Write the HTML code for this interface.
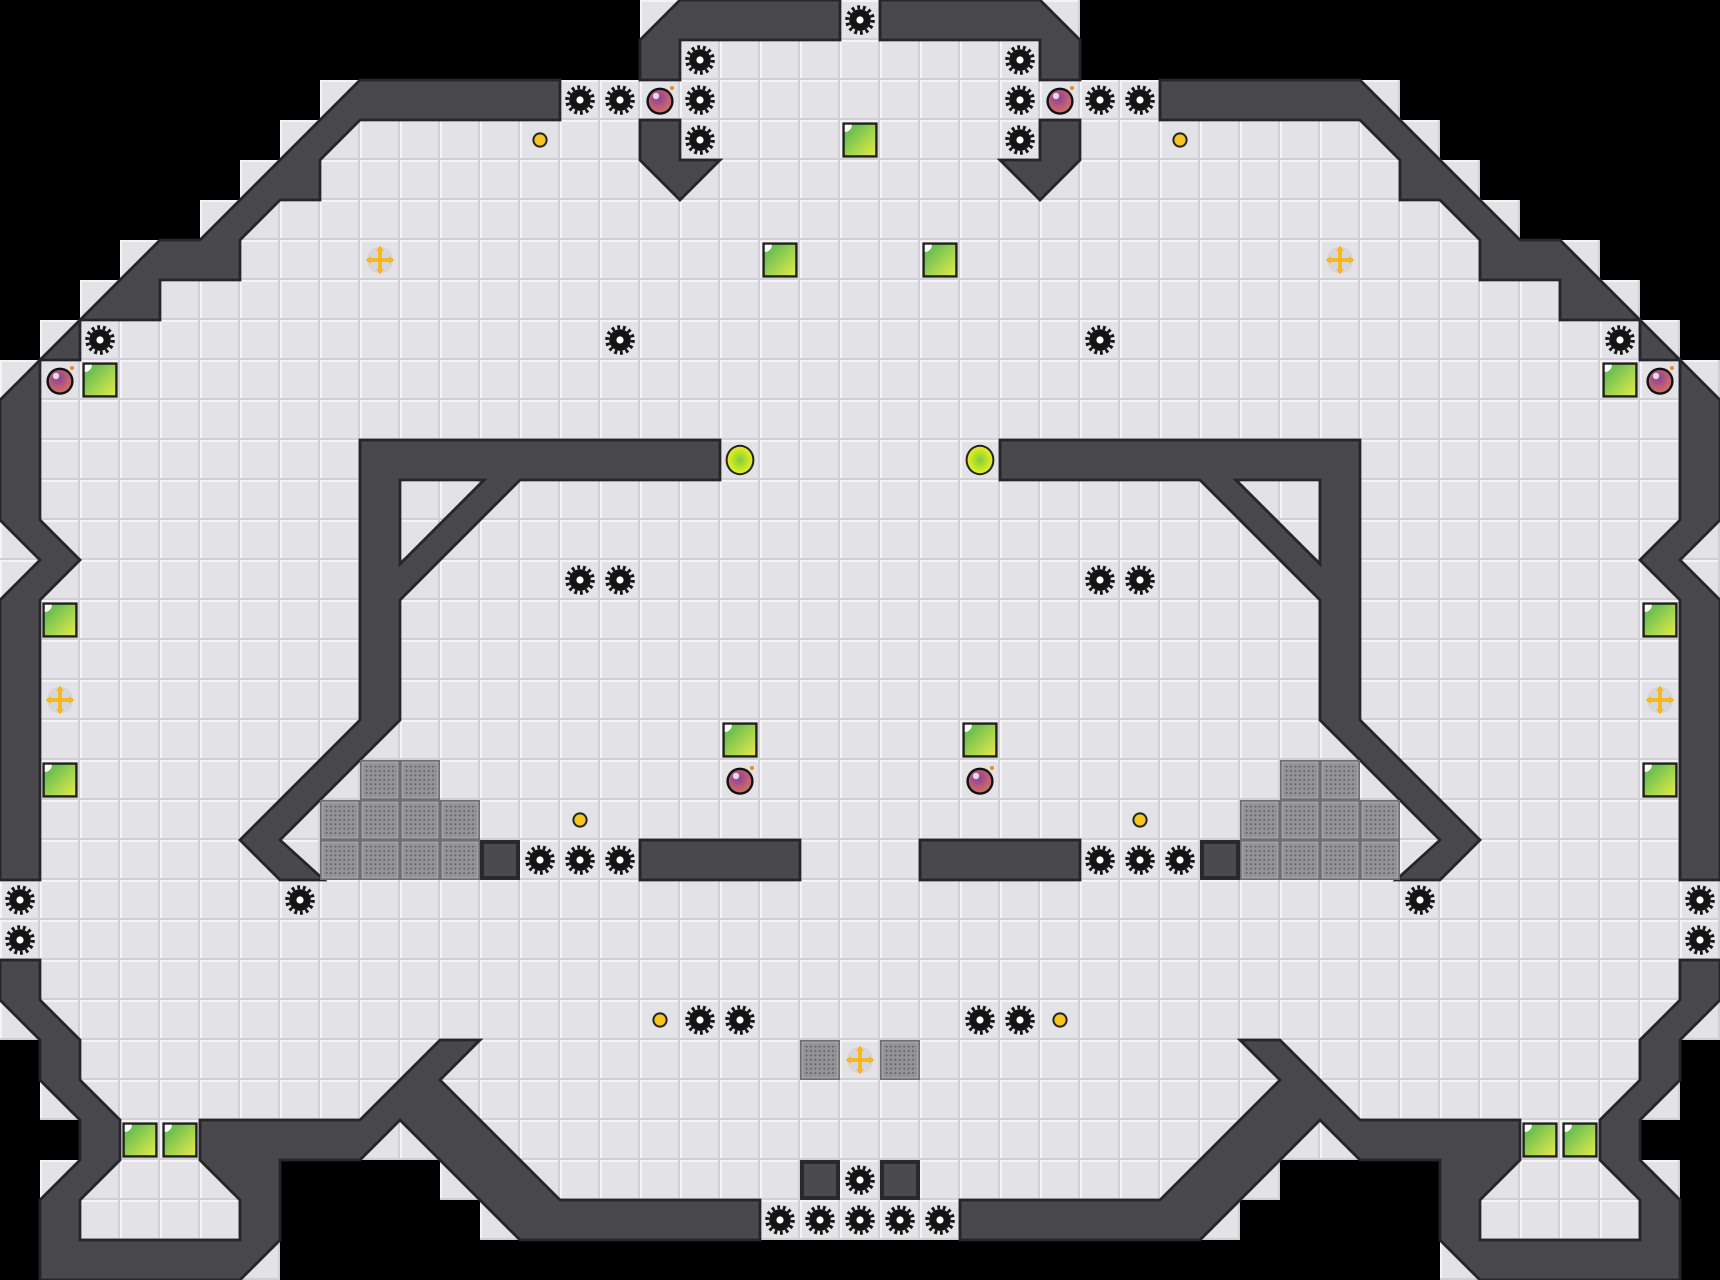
<!DOCTYPE html>
<html><head><meta charset="utf-8"><style>html,body{margin:0;padding:0;background:#000;width:1720px;height:1280px;overflow:hidden}svg{display:block}</style></head>
<body>
<svg width="1720" height="1280" viewBox="0 0 43 32" xmlns="http://www.w3.org/2000/svg">
<defs>
<pattern id="tile" patternUnits="userSpaceOnUse" width="1" height="1">
<rect width="1" height="1" fill="#e3e3e7"/>
<rect x="0" y="0" width="1" height="0.05" fill="#f4f4f6"/>
<rect x="0" y="0" width="0.05" height="1" fill="#f4f4f6"/>
<rect x="0" y="0.95" width="1" height="0.05" fill="#cfcfd4"/>
<rect x="0.95" y="0" width="0.05" height="1" fill="#cfcfd4"/>
</pattern>
<pattern id="dots" patternUnits="userSpaceOnUse" width="0.11" height="0.11">
<rect width="0.11" height="0.11" fill="#949496"/>
<circle cx="0.055" cy="0.055" r="0.025" fill="#606063"/>
</pattern>
<linearGradient id="gr" x1="0" y1="0" x2="1" y2="1"><stop offset="0" stop-color="#4fb654"/><stop offset="1" stop-color="#e2ea48"/></linearGradient>
<radialGradient id="bm" cx="0.4" cy="0.35" r="0.7"><stop offset="0" stop-color="#8e3fa0"/><stop offset="1" stop-color="#d4705c"/></radialGradient>
<radialGradient id="yg" cx="0.5" cy="0.5" r="0.5"><stop offset="0" stop-color="#7fcf3a"/><stop offset="1" stop-color="#e6ee20"/></radialGradient>
<symbol id="g" viewBox="0 0 1 1">
<circle cx="0.5" cy="0.5" r="0.27" fill="#141414"/>
<circle cx="0.5" cy="0.5" r="0.32" fill="none" stroke="#141414" stroke-width="0.1" stroke-dasharray="0.07 0.073"/>
<circle cx="0.5" cy="0.5" r="0.09" fill="#fff"/>
</symbol>
<symbol id="s" viewBox="0 0 1 1">
<rect x="0.06" y="0.06" width="0.88" height="0.88" fill="#222"/>
<rect x="0.12" y="0.12" width="0.76" height="0.76" fill="url(#gr)"/>
<path d="M0.12 0.12 h0.18 a0.18 0.18 0 0 1 -0.18 0.18z" fill="#fff"/>
</symbol>
<symbol id="b" viewBox="0 0 1 1">
<circle cx="0.5" cy="0.53" r="0.34" fill="#111"/>
<circle cx="0.5" cy="0.53" r="0.28" fill="url(#bm)"/>
<circle cx="0.4" cy="0.4" r="0.08" fill="#fff" opacity="0.8"/>
<circle cx="0.8" cy="0.2" r="0.05" fill="#f08a20"/>
</symbol>
<symbol id="y" viewBox="0 0 1 1">
<circle cx="0.5" cy="0.5" r="0.19" fill="#222"/>
<circle cx="0.5" cy="0.5" r="0.14" fill="#f7c51c"/>
</symbol>
<symbol id="Y" viewBox="0 0 1 1">
<ellipse cx="0.5" cy="0.5" rx="0.36" ry="0.38" fill="#222"/>
<ellipse cx="0.5" cy="0.5" rx="0.31" ry="0.33" fill="url(#yg)"/>
</symbol>
<symbol id="c" viewBox="0 0 1 1">
<circle cx="0.5" cy="0.5" r="0.33" fill="#d6d6de"/>
<path d="M0.5 0.14 L0.6 0.27 H0.55 V0.45 H0.73 V0.4 L0.86 0.5 L0.73 0.6 V0.55 H0.55 V0.73 H0.6 L0.5 0.86 L0.4 0.73 H0.45 V0.55 H0.27 V0.6 L0.14 0.5 L0.27 0.4 V0.45 H0.45 V0.27 H0.4Z" fill="#f6b820"/>
</symbol>
<symbol id="k" viewBox="0 0 1 1">
<rect width="1" height="1" fill="#6f6f72"/>
<rect x="0.04" y="0.04" width="0.92" height="0.92" fill="#a2a2a4"/>
<rect x="0.08" y="0.08" width="0.84" height="0.84" fill="url(#dots)"/>
</symbol>
<symbol id="d" viewBox="0 0 1 1">
<rect width="1" height="1" fill="#29292c"/>
<rect x="0.1" y="0.1" width="0.8" height="0.8" fill="#4a4a4f"/>
</symbol>
</defs>

<rect width="43" height="32" fill="#000"/>
<g fill="url(#tile)">
<rect x="16" y="0" width="11" height="2"/>
<rect x="8" y="2" width="27" height="1"/>
<rect x="7" y="3" width="29" height="1"/>
<rect x="6" y="4" width="31" height="1"/>
<rect x="5" y="5" width="33" height="1"/>
<rect x="3" y="6" width="37" height="1"/>
<rect x="2" y="7" width="39" height="1"/>
<rect x="1" y="8" width="41" height="1"/>
<rect x="0" y="9" width="43" height="17"/>
<rect x="1" y="26" width="41" height="2"/>
<rect x="2" y="28" width="39" height="1"/>
<rect x="1" y="29" width="6" height="3"/>
<rect x="36" y="29" width="6" height="3"/>
<rect x="11" y="29" width="21" height="1"/>
<rect x="12" y="30" width="19" height="1"/>
</g>

<g id="wallsL" fill="#48484d" stroke="#26262a" stroke-width="0.07" stroke-linejoin="miter">
<polygon points="14,2 9,2 5,6 4,6 1,9 2,9 2,8 4,8 4,7 6,7 6,6 7,5 8,5 8,4 9,3 14,3"/>
<polygon points="0,10 1,9 1,13 2,14 1,15 1,22 0,22 0,15 1,14 0,13"/>
<polygon points="16,1 17,0 21,0 21,1 17,1 17,2 16,2"/>
<polygon points="16,3 17,3 17,4 18,4 17,5 16,4"/>
<polygon points="0,24 1,24 1,25 2,26 2,27 3,28 3,29 2,30 2,31 6,31 6,30 5,29 5,28 9,28 11,26 12,26 11,27 14,30 19,30 19,31 13,31 10,28 9,29 7,29 7,30 7,31 6,32 1,32 1,30 2,29 2,28 1,27 1,26 0,25"/>
<path fill-rule="evenodd" d="M18,11 L9,11 L9,18 L6,21 L7,22 L8.1,22 L7,21 L10,18 L10,15 L13,12 L18,12 Z M10,12 L12.1,12 L10,14.1 Z"/>
<rect x="16" y="21" width="4" height="1"/>
</g>
<use href="#wallsL" transform="translate(43,0) scale(-1,1)"/>

<g>
<use href="#d" x="12" y="21" width="1" height="1"/>
<use href="#d" x="30" y="21" width="1" height="1"/>
<use href="#d" x="20" y="29" width="1" height="1"/>
<use href="#d" x="22" y="29" width="1" height="1"/>
</g>

<g>
<use href="#k" x="9" y="19" width="1" height="1"/><use href="#k" x="10" y="19" width="1" height="1"/>
<use href="#k" x="8" y="20" width="1" height="1"/><use href="#k" x="9" y="20" width="1" height="1"/><use href="#k" x="10" y="20" width="1" height="1"/><use href="#k" x="11" y="20" width="1" height="1"/>
<use href="#k" x="8" y="21" width="1" height="1"/><use href="#k" x="9" y="21" width="1" height="1"/><use href="#k" x="10" y="21" width="1" height="1"/><use href="#k" x="11" y="21" width="1" height="1"/>
<use href="#k" x="32" y="19" width="1" height="1"/><use href="#k" x="33" y="19" width="1" height="1"/>
<use href="#k" x="31" y="20" width="1" height="1"/><use href="#k" x="32" y="20" width="1" height="1"/><use href="#k" x="33" y="20" width="1" height="1"/><use href="#k" x="34" y="20" width="1" height="1"/>
<use href="#k" x="31" y="21" width="1" height="1"/><use href="#k" x="32" y="21" width="1" height="1"/><use href="#k" x="33" y="21" width="1" height="1"/><use href="#k" x="34" y="21" width="1" height="1"/>
<use href="#k" x="20" y="26" width="1" height="1"/><use href="#k" x="22" y="26" width="1" height="1"/>
</g>

<g>
<use href="#g" x="21" y="0" width="1" height="1"/>
<use href="#g" x="17" y="1" width="1" height="1"/><use href="#g" x="25" y="1" width="1" height="1"/>
<use href="#g" x="14" y="2" width="1" height="1"/><use href="#g" x="15" y="2" width="1" height="1"/><use href="#g" x="17" y="2" width="1" height="1"/>
<use href="#g" x="25" y="2" width="1" height="1"/><use href="#g" x="27" y="2" width="1" height="1"/><use href="#g" x="28" y="2" width="1" height="1"/>
<use href="#g" x="17" y="3" width="1" height="1"/><use href="#g" x="25" y="3" width="1" height="1"/>
<use href="#g" x="2" y="8" width="1" height="1"/><use href="#g" x="15" y="8" width="1" height="1"/><use href="#g" x="27" y="8" width="1" height="1"/><use href="#g" x="40" y="8" width="1" height="1"/>
<use href="#g" x="14" y="14" width="1" height="1"/><use href="#g" x="15" y="14" width="1" height="1"/><use href="#g" x="27" y="14" width="1" height="1"/><use href="#g" x="28" y="14" width="1" height="1"/>
<use href="#g" x="13" y="21" width="1" height="1"/><use href="#g" x="14" y="21" width="1" height="1"/><use href="#g" x="15" y="21" width="1" height="1"/>
<use href="#g" x="27" y="21" width="1" height="1"/><use href="#g" x="28" y="21" width="1" height="1"/><use href="#g" x="29" y="21" width="1" height="1"/>
<use href="#g" x="0" y="22" width="1" height="1"/><use href="#g" x="7" y="22" width="1" height="1"/><use href="#g" x="35" y="22" width="1" height="1"/><use href="#g" x="42" y="22" width="1" height="1"/>
<use href="#g" x="0" y="23" width="1" height="1"/><use href="#g" x="42" y="23" width="1" height="1"/>
<use href="#g" x="17" y="25" width="1" height="1"/><use href="#g" x="18" y="25" width="1" height="1"/><use href="#g" x="24" y="25" width="1" height="1"/><use href="#g" x="25" y="25" width="1" height="1"/>
<use href="#g" x="21" y="29" width="1" height="1"/>
<use href="#g" x="19" y="30" width="1" height="1"/><use href="#g" x="20" y="30" width="1" height="1"/><use href="#g" x="21" y="30" width="1" height="1"/><use href="#g" x="22" y="30" width="1" height="1"/><use href="#g" x="23" y="30" width="1" height="1"/>
</g>

<g>
<use href="#s" x="21" y="3" width="1" height="1"/>
<use href="#s" x="19" y="6" width="1" height="1"/><use href="#s" x="23" y="6" width="1" height="1"/>
<use href="#s" x="2" y="9" width="1" height="1"/><use href="#s" x="40" y="9" width="1" height="1"/>
<use href="#s" x="1" y="15" width="1" height="1"/><use href="#s" x="41" y="15" width="1" height="1"/>
<use href="#s" x="18" y="18" width="1" height="1"/><use href="#s" x="24" y="18" width="1" height="1"/>
<use href="#s" x="1" y="19" width="1" height="1"/><use href="#s" x="41" y="19" width="1" height="1"/>
<use href="#s" x="3" y="28" width="1" height="1"/><use href="#s" x="4" y="28" width="1" height="1"/>
<use href="#s" x="38" y="28" width="1" height="1"/><use href="#s" x="39" y="28" width="1" height="1"/>
</g>

<g>
<use href="#b" x="16" y="2" width="1" height="1"/><use href="#b" x="26" y="2" width="1" height="1"/>
<use href="#b" x="1" y="9" width="1" height="1"/><use href="#b" x="41" y="9" width="1" height="1"/>
<use href="#b" x="18" y="19" width="1" height="1"/><use href="#b" x="24" y="19" width="1" height="1"/>
</g>

<g>
<use href="#y" x="13" y="3" width="1" height="1"/><use href="#y" x="29" y="3" width="1" height="1"/>
<use href="#y" x="14" y="20" width="1" height="1"/><use href="#y" x="28" y="20" width="1" height="1"/>
<use href="#y" x="16" y="25" width="1" height="1"/><use href="#y" x="26" y="25" width="1" height="1"/>
<use href="#Y" x="18" y="11" width="1" height="1"/><use href="#Y" x="24" y="11" width="1" height="1"/>
</g>

<g>
<use href="#c" x="9" y="6" width="1" height="1"/><use href="#c" x="33" y="6" width="1" height="1"/>
<use href="#c" x="1" y="17" width="1" height="1"/><use href="#c" x="41" y="17" width="1" height="1"/>
<use href="#c" x="21" y="26" width="1" height="1"/>
</g>
</svg>
</body></html>
